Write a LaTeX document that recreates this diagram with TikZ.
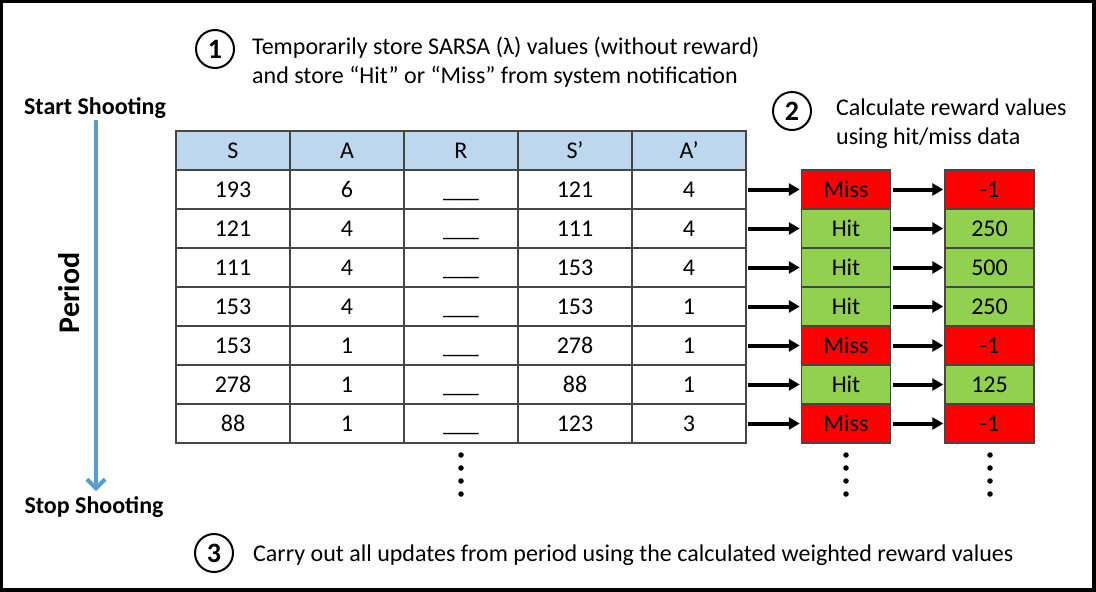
\documentclass[tikz,border=0pt]{standalone}
\usepackage{fontspec}
\setmainfont{Carlito}
\usetikzlibrary{arrows.meta}
\definecolor{hdr}{RGB}{189,215,238}
\definecolor{hitg}{RGB}{146,208,80}
\definecolor{missr}{RGB}{255,0,0}
\definecolor{pblue}{RGB}{91,155,213}
\definecolor{tline}{RGB}{70,70,70}
\begin{document}
\begin{tikzpicture}[x=1pt,y=-1pt,
  cell/.style={draw=tline, line width=1.5pt, minimum width=114pt, minimum height=39pt,
    inner sep=0pt, text height=15pt, text depth=0pt, font=\fontsize{24}{28}\selectfont},
  hcell/.style={cell, fill=hdr},
  bx/.style={draw=tline, line width=1.5pt, minimum width=89pt, minimum height=39pt,
    inner sep=0pt, text height=15pt, text depth=0pt, font=\fontsize{24}{28}\selectfont},
  hitbox/.style={bx, fill=hitg},
  missbox/.style={bx, fill=missr},
  arr/.style={line width=4pt, -{Triangle[length=11pt,width=12pt]}, shorten <=1.5pt, shorten >=1pt},
  num/.style={circle, draw, line width=2pt, minimum size=38pt, inner sep=0pt,
    font=\fontsize{28}{30}\selectfont\bfseries},
  body/.style={font=\fontsize{24}{29}\selectfont, align=left, anchor=west, inner sep=0pt},
  lbl/.style={font=\fontsize{24}{28}\selectfont\bfseries, inner sep=0pt},
  dot/.style={circle, fill=black, inner sep=0pt, minimum size=5.5pt}
]
\fill[black] (0,0) rectangle (1096,592);
\fill[white] (3,3) rectangle (1092,588);
\useasboundingbox (0,0) rectangle (1096,592);

% header
\node[hcell] (h1) at (233,150.5) {S};
\node[hcell] (h2) at (347,150.5) {A};
\node[hcell] (h3) at (461,150.5) {R};
\node[hcell] (h4) at (575,150.5) {S’};
\node[hcell] (h5) at (689,150.5) {A’};

% rows
\foreach \i/\s/\a/\sp/\ap in
  {1/193/6/121/4, 2/121/4/111/4, 3/111/4/153/4,
   4/153/4/153/1, 5/153/1/278/1, 6/278/1/88/1,
   7/88/1/123/3}{
  \pgfmathsetmacro{\yy}{189.5+39*(\i-1)}
  \node[cell] (s\i) at (233,\yy) {\s};
  \node[cell] (a\i) at (347,\yy) {\a};
  \node[cell] (r\i) at (461,\yy) {\_\_\_};
  \node[cell] (sp\i) at (575,\yy) {\sp};
  \node[cell] (ap\i) at (689,\yy) {\ap};
}
% hit / miss boxes
\node[missbox] (m1) at (846,189.5) {Miss};
\node[hitbox]  (m2) at (846,228.5) {Hit};
\node[hitbox]  (m3) at (846,267.5) {Hit};
\node[hitbox]  (m4) at (846,306.5) {Hit};
\node[missbox] (m5) at (846,345.5) {Miss};
\node[hitbox]  (m6) at (846,384.5) {Hit};
\node[missbox] (m7) at (846,423.5) {Miss};
% reward boxes
\node[missbox] (v1) at (989.5,189.5) {-1};
\node[hitbox]  (v2) at (989.5,228.5) {250};
\node[hitbox]  (v3) at (989.5,267.5) {500};
\node[hitbox]  (v4) at (989.5,306.5) {250};
\node[missbox] (v5) at (989.5,345.5) {-1};
\node[hitbox]  (v6) at (989.5,384.5) {125};
\node[missbox] (v7) at (989.5,423.5) {-1};

\foreach \i in {1,...,7}{
  \draw[arr] (ap\i.east) -- (m\i.west);
  \draw[arr] (m\i.east) -- (v\i.west);
}

% dots
\foreach \x [count=\j] in {461,846,990}{
  \foreach \y [count=\n] in {455,468,481,494}{
    \node[dot] (d\j\n) at (\x,\y) {};
  }
}

% numbered steps
\node[num] (c1) at (215,49) {1};
\node[body] (t1) at (252,62) {Temporarily store SARSA (λ) values (without reward)\\and store “Hit” or “Miss” from system notification};
\node[num] (c2) at (792,111) {2};
\node[body] (t2) at (836,124) {Calculate reward values\\using hit/miss data};
\node[num] (c3) at (214,553) {3};
\node[body] (t3) at (253,555) {Carry out all updates from period using the calculated weighted reward values};

% period axis
\node[lbl] (start) at (95,108) {Start Shooting};
\node[lbl] (stop) at (94,507) {Stop Shooting};
\coordinate (ps) at (96,120);
\coordinate (pe) at (96,491);
\draw[pblue, line width=4pt, -{Straight Barb[length=9pt,width=18pt,line width=4pt]}] (ps) -- (pe);
\node[font=\fontsize{30}{32}\selectfont\bfseries, rotate=90, inner sep=0pt] (period) at (69,293) {Period};
\end{tikzpicture}
\end{document}
